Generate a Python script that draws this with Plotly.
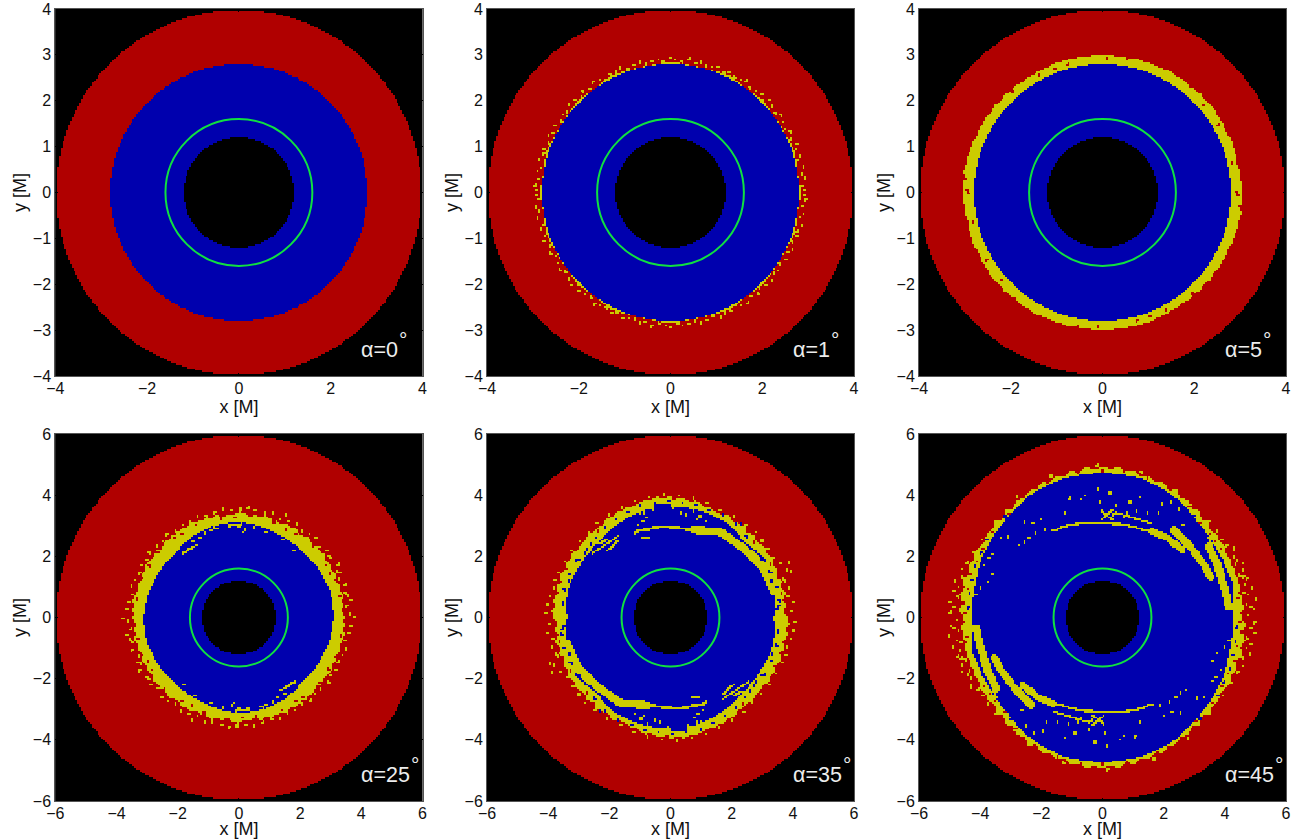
import numpy as np
import plotly.graph_objects as go

# ---- values (lengths in M) ----
alpha_labels = ["α=0", "α=1", "α=5", "α=25", "α=35", "α=45"]
axis_limits = [4, 4, 4, 6, 6, 6]
x_ticks = [[-4, -2, 0, 2, 4]] * 3 + [[-6, -4, -2, 0, 2, 4, 6]] * 3
y_ticks = [[-4, -3, -2, -1, 0, 1, 2, 3, 4]] * 3 + [[-6, -4, -2, 0, 2, 4, 6]] * 3
outer_disc = [3.98, 3.98, 3.98, 5.97, 5.97, 5.97]
horizon = 1.2
green_circle = 1.6

# radius of the outer edge of the yellow band, for angle 0..180 deg (the picture is point-symmetric)
out_0 = [2.8]
out_1 = [2.84,2.80,2.85,2.81,2.80,2.84,2.80,2.86,2.81,2.80,2.85,2.80,2.82,2.86,2.80,2.84,2.81,2.80,2.85,2.80]
out_5 = [3.03,3.05,3.02,3.04,3.00,3.03,3.01,3.04,3.02,3.00,3.03,3.01,3.04,3.02,3.00,3.03,3.01,2.99,3.02,3.00,
         3.03,3.01,2.98,3.01,2.99,3.02,2.98,3.00,2.97,3.01,3.02,3.00,2.98,3.01,2.97,3.00,2.98,3.01,2.97,3.00,
         2.96,2.99,2.97,3.00,2.98,3.01,2.99,3.02,3.00,3.03,3.01,3.03,3.00,3.04,3.02,3.05,3.03,3.06,3.03,3.05]
out_25 = [3.48,3.38,3.46,3.40,3.50,3.38,3.45,3.36,3.48,3.40,3.46,3.38,3.50,3.42,3.46,3.38,3.48,3.42,3.36,3.46,
          3.38,3.44,3.34,3.42,3.38,3.46,3.34,3.42,3.32,3.44,3.46,3.34,3.40,3.32,3.44,3.36,3.44,3.38,3.44,3.48,
          3.40,3.46,3.38,3.48,3.42,3.46,3.38,3.48,3.42,3.46,3.50,3.40,3.48,3.42,3.50,3.40,3.48,3.52,3.42,3.50]
out_35 = [3.85,3.70,3.82,3.72,3.86,3.74,3.82,3.70,3.84,3.78,3.90,3.76,3.86,3.80,3.76,3.84,3.72,3.86,3.80,3.76,
          3.84,3.78,3.74,3.82,3.76,3.86,3.90,3.84,3.93,3.88,3.96,3.90,3.97,3.91,3.94,3.90,3.86,3.90,3.82,3.86,
          3.80,3.83,3.76,3.80,3.76,3.82,3.74,3.80,3.76,3.84,3.78,3.84,3.78,3.86,3.74,3.88,3.76,3.90,3.78,3.88]
out_45 = [4.52,4.60,4.66,4.56,4.62,4.54,4.60,4.50,4.58,4.56,4.62,4.55,4.64,4.52,4.66,4.56,4.70,4.60,4.76,4.66,
          4.82,4.70,4.86,4.76,4.88,4.78,4.92,4.83,4.96,4.86,4.94,4.84,4.96,4.82,4.93,4.78,4.88,4.74,4.86,4.72,
          4.80,4.66,4.76,4.60,4.72,4.58,4.70,4.62,4.68,4.58,4.64,4.70,4.62,4.72,4.60,4.74,4.62,4.72,4.58,4.68]

# radius where the blue area ends, for angle 0..180 deg
in_0 = [2.8]
in_1 = [2.8]
in_5 = [2.8]
in_25 = [3.10,3.10,3.05,3.00,3.00,3.05,3.12,3.10,3.05,2.95,3.00,3.05]
in_35 = [3.38,3.50,3.45,3.45,3.60,3.62,3.62,3.60,3.50,3.40,3.42,3.48]
in_45 = [4.25,4.40,4.35,4.40,4.60,4.72,4.72,4.72,4.65,4.50,4.42,4.30]

# fine lines: (colour code, width, [x...], [y...]) - repeated through the origin
BLUE, RED, YELLOW = 2, 1, 3
lines_25 = [(YELLOW, .06, [-1.82, -1.38], [2.10, 2.38]),
            (YELLOW, .07, [-.30, .10], [3.02, 3.06])]
lines_35 = [
    (YELLOW, .10, [-1.12, -.24, .75], [2.82, 2.98, 2.87]),
    (YELLOW, .26, [.75, 1.62, 2.39, 3.05, 3.38], [2.87, 2.80, 2.27, 1.61, .84]),
    (YELLOW, .07, [-2.54, -1.72], [2.10, 2.65]),
    (YELLOW, .07, [-2.10, -1.72], [2.16, 2.49]),
    (YELLOW, .08, [-2.35, -2.10], [2.42, 2.55]),
    (YELLOW, .08, [-.90, -.70], [2.62, 2.62]),
    (BLUE, .06, [-.50, 0.0], [3.66, 3.66]),
    (BLUE, .06, [2.55, 3.10], [2.35, 1.85]),
]
lines_45 = [
    (YELLOW, .22, [1.61, 2.11, 2.61], [2.82, 2.60, 2.22]),
    (YELLOW, .24, [2.32, 2.87, 3.31, 3.53], [2.87, 2.32, 1.72, 1.34]),
    (YELLOW, .26, [3.48, 3.80, 4.02, 4.13], [2.32, 1.61, .84, .35]),
    (YELLOW, .22, [4.08, 4.35, 4.46, 4.35], [1.83, 1.17, .41, -.25]),
    (YELLOW, .07, [-1.62, -1.20, -.60, 0.0, .68, 1.34, 1.61], [2.82, 3.00, 3.10, 3.08, 3.05, 2.87, 2.82]),
    (YELLOW, .08, [-.05, .30], [3.50, 3.20]),
    (YELLOW, .08, [.30, -.05], [3.50, 3.20]),
    (YELLOW, .05, [.46, 1.56], [3.42, 3.09]),
]

# single specks in x, y: x, y, colour code - repeated through the origin
speck_5_x = [-2.96, -2.54, -2.43, -1.96, -1.38, -1.05, -.75, .09, .53, 1.91, 2.20, 2.53, 2.82, 2.93, -3.00]
speck_5_y = [.05, 1.73, 1.80, 2.20, 2.55, 2.70, 2.79, 2.92, 2.92, 2.31, 1.91, 1.47, .64, .01, .30]
speck_5_c = [RED] * 15
speck_25_x = [-3.63, -2.94, 1.52, 2.95, 3.22, 3.55, 3.77, -.72, -.80, .21, .15, -1.27, -1.49, -1.10, -.90, .90,
              1.10, 1.45, 1.80, 2.20, .50, -.30, 0.0, .60]
speck_25_y = [.27, 2.14, 3.37, 2.00, 1.50, .73, .02, 2.90, 2.95, 2.87, 2.80, 2.60, 2.48, 2.75, 2.85, 2.80,
              2.85, 2.55, 2.20, 2.25, 2.95, 3.00, 2.95, 3.05]
speck_25_c = [YELLOW] * 24
speck_35_x = [-1.0, -.85, -.9, -1.06, -.57, -.79, .09, .31, .53, .75, .86, .96, 1.18, .42, -1.17, 3.95, 3.85, 3.70,
              2.9, 3.0, 3.2, 3.3, 2.75, -3.0, -2.8, -2.6, -3.35, -3.5, -3.45, 1.3, 2.3, 3.55, 3.48]
speck_35_y = [3.42, 3.42, 3.15, 3.04, 3.53, 3.26, 3.57, 3.42, 3.36, 3.47, 3.20, 3.30, 3.15, 3.64, 2.76, 1.50, 1.80, 1.30,
              2.0, 1.9, 1.5, 1.2, 2.2, 1.9, 2.1, 2.4, 1.2, .5, .9, 3.5, 3.05, .55, .25]
speck_35_c = [YELLOW] * 18 + [BLUE] * 15
speck_45_x = [-1.07, -.69, -.58, .24, -.14, -.09, .90, 1.23, .46, 1.83, 2.27, 1.94, 2.49, -1.24, 2.65, 1.45, .79, 1.12,
              .68, .35, -2.55, -2.28, -2.0, -3.32, -3.10, -2.72, -2.55, -2.39, -2.17, -1.90, -1.62, -3.6, -3.71, -3.87,
              -3.6, -3.76, -3.98, -4.14, 3.45, 3.55, 3.50, 3.60]
speck_45_y = [3.89, 3.86, 4.0, 4.08, 4.19, 3.78, 3.78, 3.94, 3.66, 3.42, 3.78, 3.72, 3.53, 3.42, 3.04, 3.42, 3.42, 3.48,
              3.31, 3.37, 3.11, 3.11, 3.22, 2.62, 2.64, 2.38, 2.47, 2.62, 2.76, 2.87, 2.87, 2.05, 1.94, 1.72,
              1.39, 1.17, .95, .73, 2.60, 2.55, 2.45, 2.45]
speck_45_c = [YELLOW] * 42

# specks along the ring: angle (deg), radius - repeated through the origin
ring_1_yellow_a = [1,3,6,8,11,14,16,19,21,24,27,29,32,35,37,40,43,45,47,50,53,56,58,61,64,66,69,72,74,77,79,82,85,88,
                   90,93,95,98,101,103,106,109,112,114,117,120,122,125,128,131,133,136,139,142,144,147,150,153,
                   155,158,161,163,166,169,171,174,177,179]
ring_1_yellow_r = [2.92,2.88,2.96,2.90,2.94,2.86,2.93,2.89,2.95,2.87,2.92,2.85,2.90,2.94,2.86,2.91,2.95,2.87,2.92,2.89,
                   2.86,2.94,2.90,2.87,2.92,2.85,2.93,2.89,2.86,2.92,2.88,2.94,2.86,2.90,2.93,2.87,2.91,2.88,2.85,2.92,
                   2.89,2.86,2.93,2.88,2.91,2.85,2.90,2.94,2.87,2.92,2.85,2.89,2.93,2.87,2.90,2.85,2.92,2.88,
                   2.94,2.86,2.91,2.89,2.95,2.87,2.93,2.90,2.96,2.92]
ring_25_yellow_a = [2,6,9,13,17,21,24,28,33,37,41,46,50,54,58,63,67,72,76,81,85,89,94,98,103,108,112,117,121,126,131,
                    135,139,144,148,152,156,160,164,168,172,176]
ring_25_yellow_r = [3.62,3.55,3.70,3.58,3.65,3.52,3.60,3.68,3.56,3.62,3.52,3.64,3.58,3.50,3.60,3.54,3.48,3.58,3.52,
                    3.56,3.60,3.54,3.50,3.58,3.52,3.48,3.56,3.50,3.54,3.48,3.58,3.52,3.56,3.60,3.54,3.62,3.56,3.60,
                    3.66,3.56,3.62,3.70]
ring_25_red_a = [4,12,20,31,44,56,70,83,100,115,129,141,158,170,26,62,92,124,150,178]
ring_25_red_r = [3.40,3.36,3.42,3.34,3.38,3.30,3.32,3.35,3.30,3.34,3.36,3.40,3.42,3.38,3.32,3.28,3.26,3.30,3.38,3.44]
ring_35_yellow_a = [3,7,10,14,18,22,26,30,35,40,45,51,58,65,72,79,86,93,100,107,114,121,128,134,140,146,152,158,162,
                    166,170,174,178]
ring_35_yellow_r = [3.95,4.05,3.90,3.98,3.92,4.12,4.02,3.88,3.90,3.92,3.94,3.90,3.88,3.86,3.94,3.96,4.00,4.02,4.00,
                    3.98,3.95,3.92,3.90,3.84,3.88,3.90,3.92,3.94,3.98,3.92,4.00,4.04,4.08]
ring_35_blue_a = [6,16,24,34,47,55,63,70,77,84,91,98,105,112,119,126,133,141,149,157,165,173]
ring_35_blue_r = [3.55,3.62,3.60,3.58,3.62,3.72,3.78,3.72,3.80,3.76,3.82,3.74,3.80,3.72,3.66,3.62,3.56,3.52,3.62,3.58,3.62,3.55]
ring_35_red_a = [12,28,42,68,88,110,130,155,170]
ring_35_red_r = [3.72,3.70,3.66,3.82,3.88,3.86,3.70,3.74,3.88]
ring_45_yellow_a = [1,3,5,7,9,11,13,15,17,19,21,23,25,27,30,33,37,42,47,52,60,75,92,110,125,138,147,153,158,161,164,
                    166,168,170,172,174,176,178,4,10,16,22,28]
ring_45_yellow_r = [4.78,4.95,4.72,5.05,4.82,4.98,4.76,4.90,4.70,4.84,4.92,4.78,4.72,4.80,4.70,4.66,4.68,4.70,4.62,
                    4.70,4.82,4.92,4.98,4.92,4.84,4.70,4.68,4.72,4.78,4.85,4.75,4.96,4.82,4.95,4.78,5.02,4.86,4.98,
                    4.86,4.70,4.80,4.68,4.86]
ring_45_red_a = [2,6,10,14,18,22,26,30,34,38,44,52,62,72,82,90,100,112,124,132,142,150,156,162,168,174,178,8,20,28]
ring_45_red_r = [4.55,4.60,4.58,4.64,4.60,4.56,4.60,4.48,4.46,4.44,4.42,4.60,4.72,4.78,4.84,4.80,4.82,4.78,4.72,4.58,
                 4.56,4.52,4.50,4.54,4.50,4.56,4.52,4.50,4.66,4.62]
ring_45_blue_a = [146,152,158,164,170,176,38,48,134]
ring_45_blue_r = [4.55,4.50,4.48,4.45,4.42,4.40,4.32,4.50,4.58]

outs = [out_0, out_1, out_5, out_25, out_35, out_45]
inners = [in_0, in_1, in_5, in_25, in_35, in_45]
line_sets = [[], [], [], lines_25, lines_35, lines_45]
specks = [([], [], []), ([], [], []), (speck_5_x, speck_5_y, speck_5_c),
          (speck_25_x, speck_25_y, speck_25_c), (speck_35_x, speck_35_y, speck_35_c), (speck_45_x, speck_45_y, speck_45_c)]
ring_specks = [
    [],
    [(ring_1_yellow_a, ring_1_yellow_r, YELLOW)],
    [],
    [(ring_25_yellow_a, ring_25_yellow_r, YELLOW), (ring_25_red_a, ring_25_red_r, RED)],
    [(ring_35_yellow_a, ring_35_yellow_r, YELLOW), (ring_35_blue_a, ring_35_blue_r, BLUE), (ring_35_red_a, ring_35_red_r, RED)],
    [(ring_45_yellow_a, ring_45_yellow_r, YELLOW), (ring_45_red_a, ring_45_red_r, RED), (ring_45_blue_a, ring_45_blue_r, BLUE)],
]

N = 200
colours = ["#000000", "#B00000", "#0000AE", "#CCCC00"]
scale = [[0, colours[0]], [.25, colours[0]], [.25, colours[1]], [.5, colours[1]],
         [.5, colours[2]], [.75, colours[2]], [.75, colours[3]], [1, colours[3]]]


def edge(theta, values):
    v = np.asarray(values, float)
    if len(v) == 1:
        return np.full_like(theta, v[0])
    return np.interp(theta % 180, np.linspace(0, 180, len(v) + 1), np.append(v, v[0]))


def panel(i):
    L = axis_limits[i]
    c = (np.arange(N) + .5) / N * 2 * L - L
    X, Y = np.meshgrid(c, c)
    R = np.hypot(X, Y)
    T = np.degrees(np.arctan2(Y, X))
    cell = 2 * L / N
    z = np.zeros_like(X, dtype=int)
    z[R < outer_disc[i]] = RED
    z[R < edge(T, outs[i])] = YELLOW
    z[R < edge(T, inners[i])] = BLUE
    for code, w, xs, ys in line_sets[i]:
        for sgn in (1, -1):
            for k in range(len(xs) - 1):
                ax, ay = sgn * xs[k], sgn * ys[k]
                bx, by = sgn * xs[k + 1], sgn * ys[k + 1]
                dx, dy = bx - ax, by - ay
                t = np.clip(((X - ax) * dx + (Y - ay) * dy) / (dx * dx + dy * dy), 0, 1)
                d = np.hypot(X - ax - t * dx, Y - ay - t * dy)
                z[d < max(w / 2, .6 * cell)] = code
    pts = list(zip(*specks[i]))
    for angs, rads, code in ring_specks[i]:
        for a, r in zip(angs, rads):
            pts.append((r * np.cos(np.radians(a)), r * np.sin(np.radians(a)), code))
    for px, py, code in pts:
        for sgn in (1, -1):
            d = np.hypot(X - sgn * px, Y - sgn * py)
            z[d < .8 * cell] = code
    z[R < horizon] = 0
    return c, z


W, H = 1291, 839
cols = [(55.3, 422.5), (487, 854), (919, 1286)]
rows = [(9, 376), (434, 801)]
deg_offset = [348, 348, 348, 360, 360, 360]
fig = go.Figure()
layout = dict(width=W, height=H, margin=dict(l=0, r=0, t=0, b=0), paper_bgcolor="white", plot_bgcolor="black",
              font=dict(family="Liberation Sans", size=15, color="#111111"), showlegend=False, autosize=False)
shapes, notes = [], []
for i in range(6):
    c, z = panel(i)
    n = "" if i == 0 else str(i + 1)
    x0, x1 = cols[i % 3]
    y0, y1 = rows[i // 3]
    fig.add_trace(go.Heatmap(x=c, y=c, z=z, zmin=0, zmax=3, colorscale=scale, showscale=False,
                             xaxis="x" + n, yaxis="y" + n, hoverinfo="skip"))
    common = dict(showgrid=False, zeroline=False, ticks="inside", ticklen=3, tickcolor="#000000", mirror="allticks",
                  showline=True, linecolor="#555555", linewidth=1, range=[-axis_limits[i], axis_limits[i]],
                  tickfont=dict(size=16), title_font=dict(size=18), automargin=False)
    layout["xaxis" + n] = dict(common, domain=[x0 / W, x1 / W], anchor="y" + n, tickvals=x_ticks[i],
                               ticklabelstandoff=-2, title=dict(text="x [M]", standoff=2))
    layout["yaxis" + n] = dict(common, domain=[1 - y1 / H, 1 - y0 / H], anchor="x" + n, tickvals=y_ticks[i],
                               title=dict(text="y [M]", standoff=1))
    shapes.append(dict(type="circle", xref="x" + n, yref="y" + n, x0=-green_circle, x1=green_circle,
                       y0=-green_circle, y1=green_circle, line=dict(color="#10E040", width=2)))
    notes.append(dict(xref="x" + n + " domain", yref="y" + n + " domain", x=304 / 367, y=26 / 367, xanchor="left",
                      yanchor="middle", text=alpha_labels[i], showarrow=False, font=dict(size=21.5, color="#EDEDED")))
    notes.append(dict(xref="x" + n + " domain", yref="y" + n + " domain", x=deg_offset[i] / 367, y=37 / 367,
                      xanchor="center", yanchor="middle", text="°", showarrow=False, font=dict(size=21, color="#EDEDED")))
layout["shapes"] = shapes
layout["annotations"] = notes
fig.update_layout(**layout)
fig.write_html("out.html", config={"displayModeBar": False},
               post_script="var s=document.createElement('style');s.textContent='html,body{margin:0!important;padding:0!important;overflow:hidden}';document.head.appendChild(s);")
